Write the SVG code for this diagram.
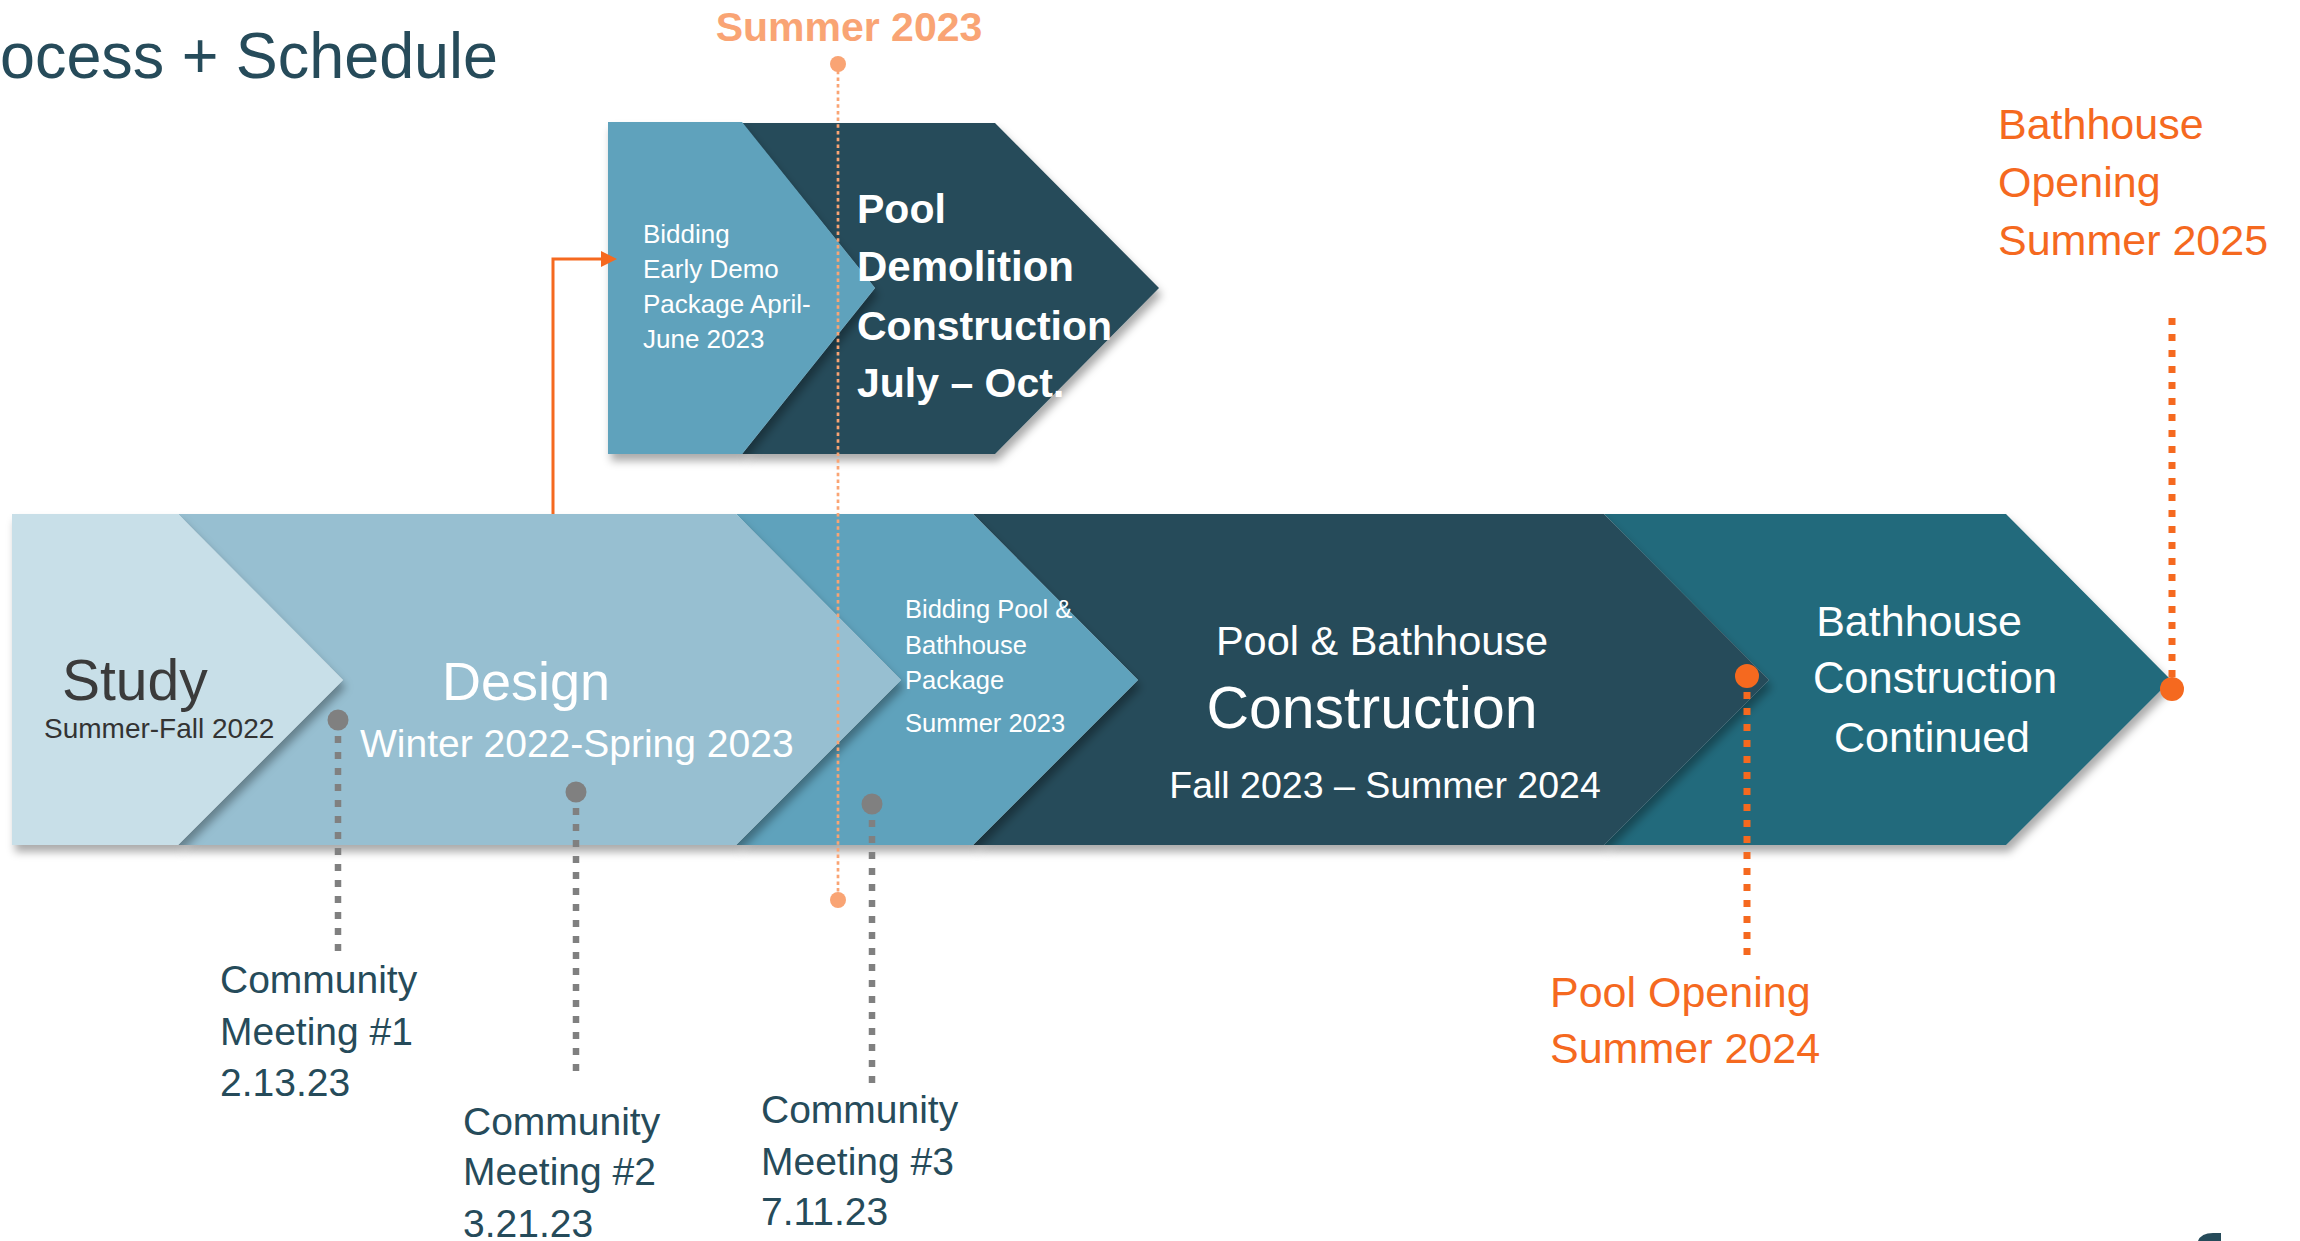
<svg xmlns="http://www.w3.org/2000/svg" width="2300" height="1241" viewBox="0 0 2300 1241">
<style>
  text { font-family: "Liberation Sans", Arial, sans-serif; }
  .w { fill: #ffffff; }
  .teal { fill: #264B5A; }
  .org { fill: #F5691F; }
  .gline { stroke: #808080; stroke-width: 6.5; stroke-dasharray: 7 9; fill: none; }
  .oline { stroke: #F5691F; stroke-width: 7; stroke-dasharray: 7 9; fill: none; }
  .lline { stroke: #F9A474; stroke-width: 2.7; stroke-dasharray: 3.5 3.2; fill: none; }
  .gdot { fill: #808080; }
  .odot { fill: #F5691F; }
  .ldot { fill: #F9A474; }
  .sh { filter: url(#shadow); }
</style>
<defs>
  <filter id="shadow" x="-5%" y="-5%" width="115%" height="125%">
    <feDropShadow dx="3" dy="7" stdDeviation="4" flood-color="#000000" flood-opacity="0.33"/>
  </filter>
</defs>
<rect width="2300" height="1241" fill="#ffffff"/>

<g id="title">
  <text x="0" y="78" font-size="64" textLength="498" lengthAdjust="spacingAndGlyphs" class="teal">ocess + Schedule</text>
</g>

<!-- main band, drawn right to left -->
<g id="bathhouse-continued" class="sh">
  <path d="M1604,514 L2006,514 L2171,680 L2006,845 L1604,845 L1769,680 Z" fill="#206A7B"/>
</g>
<g id="pool-bathhouse-construction" class="sh">
  <path d="M973,514 L1604,514 L1769,680 L1604,845 L973,845 L1138,680 Z" fill="#264B5A"/>
</g>
<g id="bidding-pool" class="sh">
  <path d="M736,514 L973,514 L1138,680 L973,845 L736,845 L901,680 Z" fill="#5FA2BC"/>
</g>
<g id="design" class="sh">
  <path d="M178,514 L736,514 L901,680 L736,845 L178,845 L343,680 Z" fill="#97BFD1"/>
</g>
<g id="study" class="sh">
  <path d="M12,514 L178,514 L343,680 L178,845 L12,845 Z" fill="#C8DFE8"/>
</g>

<!-- upper branch -->
<g id="pool-demolition" class="sh">
  <path d="M742,123 L995,123 L1159,288 L995,454 L742,454 L875,288 Z" fill="#264B5A"/>
</g>
<g id="bidding-early-demo" class="sh">
  <path d="M608,122 L742,122 L875,288 L742,454 L608,454 Z" fill="#5FA2BC"/>
</g>

<g id="connectors">
  <path d="M553,514 L553,259 L604,259" stroke="#F5691F" stroke-width="3" fill="none"/>
  <polygon points="601,251 617,259 601,267" fill="#F5691F"/>
  <line class="lline" x1="838" y1="64" x2="838" y2="900"/>
  <line class="gline" x1="338" y1="720" x2="338" y2="953"/>
  <line class="gline" x1="576" y1="792" x2="576" y2="1072"/>
  <line class="gline" x1="872" y1="804" x2="872" y2="1083"/>
  <line class="oline" x1="1747" y1="676" x2="1747" y2="955"/>
  <line class="oline" x1="2172" y1="318" x2="2172" y2="689"/>
</g>

<g id="markers">
  <circle class="ldot" cx="838" cy="64" r="8"/>
  <circle class="ldot" cx="838" cy="900" r="8"/>
  <circle class="gdot" cx="338" cy="720" r="10.5"/>
  <circle class="gdot" cx="576" cy="792" r="10.5"/>
  <circle class="gdot" cx="872" cy="804" r="10.5"/>
  <circle class="odot" cx="1747" cy="676" r="12"/>
  <circle class="odot" cx="2172" cy="689" r="12"/>
</g>

<g id="labels-study">
  <text x="62" y="700" font-size="57" fill="#3B3B3B">Study</text>
  <text x="44" y="738" font-size="28" fill="#333333">Summer-Fall 2022</text>
</g>
<g id="labels-design">
  <text x="442" y="700" font-size="54" class="w">Design</text>
  <text x="360" y="757" font-size="39" class="w">Winter 2022-Spring 2023</text>
</g>
<g id="labels-bidding-pool">
  <text x="905" y="618" font-size="25.5" class="w">Bidding Pool &amp;</text>
  <text x="905" y="654" font-size="25.5" class="w">Bathhouse</text>
  <text x="905" y="689" font-size="25.5" class="w">Package</text>
  <text x="905" y="732" font-size="25.5" class="w">Summer 2023</text>
</g>
<g id="labels-pool-construction" text-anchor="middle">
  <text x="1382" y="655" font-size="41.5" class="w">Pool &amp; Bathhouse</text>
  <text x="1372" y="728" font-size="59" class="w">Construction</text>
  <text x="1385" y="798" font-size="37.5" class="w">Fall 2023 – Summer 2024</text>
</g>
<g id="labels-bathhouse-continued" text-anchor="middle">
  <text x="1919" y="636" font-size="43" class="w">Bathhouse</text>
  <text x="1935" y="693" font-size="43.5" class="w">Construction</text>
  <text x="1932" y="752" font-size="43" class="w">Continued</text>
</g>
<g id="labels-early-demo">
  <text x="643" y="243" font-size="26" class="w">Bidding</text>
  <text x="643" y="278" font-size="26" class="w">Early Demo</text>
  <text x="643" y="313" font-size="26" class="w">Package April-</text>
  <text x="643" y="348" font-size="26" class="w">June 2023</text>
</g>
<g id="labels-demolition" font-weight="bold">
  <text x="857" y="223" font-size="41" class="w">Pool</text>
  <text x="857" y="281" font-size="42" class="w">Demolition</text>
  <text x="857" y="340" font-size="41" class="w">Construction</text>
  <text x="857" y="397" font-size="41" class="w">July – Oct.</text>
</g>

<g id="summer-2023">
  <text x="849" y="41" font-size="41" font-weight="bold" text-anchor="middle" fill="#F9A474">Summer 2023</text>
</g>

<g id="meeting-1" class="teal">
  <text x="220" y="993" font-size="39">Community</text>
  <text x="220" y="1045" font-size="39">Meeting #1</text>
  <text x="220" y="1096" font-size="39">2.13.23</text>
</g>
<g id="meeting-2" class="teal">
  <text x="463" y="1135" font-size="39">Community</text>
  <text x="463" y="1185" font-size="39">Meeting #2</text>
  <text x="463" y="1237" font-size="39">3.21.23</text>
</g>
<g id="meeting-3" class="teal">
  <text x="761" y="1123" font-size="39">Community</text>
  <text x="761" y="1175" font-size="39">Meeting #3</text>
  <text x="761" y="1225" font-size="39">7.11.23</text>
</g>

<g id="pool-opening" class="org">
  <text x="1550" y="1007" font-size="43">Pool Opening</text>
  <text x="1550" y="1063" font-size="43">Summer 2024</text>
</g>
<g id="bathhouse-opening" class="org">
  <text x="1998" y="139" font-size="43">Bathhouse</text>
  <text x="1998" y="197" font-size="43">Opening</text>
  <text x="1998" y="255" font-size="43">Summer 2025</text>
</g>

<g id="corner-fragment">
  <path d="M2198,1241 Q2201,1233 2213,1233 L2221,1233 L2221,1241 Z" fill="#264B5A"/>
</g>
</svg>
